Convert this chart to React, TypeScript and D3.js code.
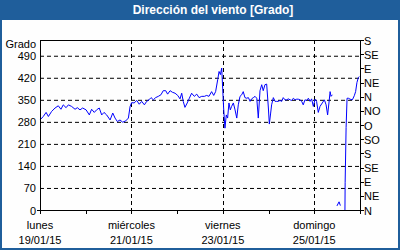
import React from 'react';
import * as d3 from 'd3';

// hours since 19/01/15 00:00 ; null value = gap in the line
const hours = [
  0, 1.7, 3.2, 4.4, 6.1, 7.9, 9.6, 11.0, 12.2, 13.7, 14.9, 16.6, 18.4, 19.6, 21.0, 22.4,
  24.2, 25.9, 27.1, 28.5, 29.7, 31.1, 32.4, 33.6, 35.0, 36.8, 38.2, 39.4, 40.6, 42.0, 43.4,
  45.0, 46.4, 47.3, 48.1, 49.4, 50.8, 52.1, 53.4, 54.8, 56.0, 57.2, 58.3, 59.5, 60.7, 62.1,
  63.5, 64.7, 66.0, 67.0, 68.3, 69.5, 70.9, 72.3, 73.5, 74.4, 75.2, 76.1, 77.3, 78.4, 79.6,
  81.0, 82.3, 83.5, 84.9, 86.3, 87.5, 88.7, 90.1, 91.2, 92.2, 93.3, 94.0, 94.7, 95.4, 95.9,
  96.4, 97.1, 97.8, 98.5, 99.2, 99.9, 100.6, 101.5, 102.4, 103.3, 104.1, 105.0, 105.9, 106.7,
  107.6, 108.5, 109.4, 110.3, 111.1, 112.0, 112.9, 113.8, 114.6, 115.5, 116.4, 117.2, 118.1,
  119.0, 119.9, 120.4, 121.1, 121.6, 122.5, 123.4, 124.3, 125.1, 126.0, 126.9, 127.7, 128.6,
  129.5, 130.4, 131.3, 132.1, 133.0, 133.9, 134.8, 135.6, 136.5, 137.4, 138.2, 139.1, 140.0,
  140.9, 141.8, 142.6, 143.5, 144.4, 145.2, 146.1, 147.0, 148.2, 149.3, 150.2, 151.0, 151.7,
  152.3, 152.8, 153.5, 154.7,
  155.9, 157.0, 157.7, 158.9,
  160.1, 160.2, 160.7, 161.2, 161.9, 162.8, 164.0, 165.0, 165.7, 166.4, 167.1, 167.6
];
const values: (number | null)[] = [
  286, 297, 310, 297, 313, 324, 331, 320, 334, 325, 334, 329, 320, 325, 318, 324,
  318, 302, 320, 310, 318, 324, 302, 310, 302, 286, 308, 292, 281, 286, 279,
  283, 292, 329, 341, 340, 348, 336, 345, 334, 345, 350, 357, 350, 357, 361,
  366, 379, 379, 368, 379, 374, 371, 364, 353, 371, 345, 326, 340, 355, 371,
  361, 368, 357, 361, 361, 364, 361, 376, 364, 376, 414, 440, 430, 451, 387,
  324, 260, 302, 292, 340, 318, 329, 340, 318, 292, 334, 361, 366, 376,
  357, 355, 357, 345, 353, 357, 361, 355, 292, 379, 398, 379, 398,
  400, 324, 273, 308, 334, 357, 345, 345, 345, 348, 345, 357, 350,
  350, 353, 350, 348, 355, 350, 352, 352, 350, 345, 334, 350, 348,
  355, 345, 353, 329, 352, 345, 310, 329, 340, 350, 334, 302, 340,
  376, 361, 366, null,
  13, 26, 14, null,
  0, 88, 262, 355, 355, 352, 350, 363, 376, 405, 420, 424
];

const gradeTicks = [0, 70, 140, 210, 280, 350, 420, 490];
const gridValues = [70, 140, 210, 280, 350, 420, 490];
const compassValues = [0, 45, 90, 135, 180, 225, 270, 315, 360, 405, 450, 495, 540];
const compassLabels = ['N', 'NE', 'E', 'SE', 'S', 'SO', 'O', 'NO', 'N', 'NE', 'E', 'SE', 'S'];
const labelDays = [19, 21, 23, 25];
const weekdayLabels = ['lunes', 'miércoles', 'viernes', 'domingo'];
const dateLabels = ['19/01/15', '21/01/15', '23/01/15', '25/01/15'];
const title = 'Dirección del viento [Grado]';
const yTitle = 'Grado';

const W = 400, H = 250;
const M = { left: 40, right: 360, top: 40, bottom: 210 };
const BLUE = '#1f5e9b';
const FONT = '"Liberation Sans", Arial, sans-serif';

export default function App() {
  const start = new Date(2015, 0, 19);
  const end = new Date(2015, 0, 26);
  const x = d3.scaleTime().domain([start, end]).range([M.left, M.right]);
  const y = d3.scaleLinear().domain([0, 540]).range([M.bottom, M.top]);
  const pts = hours.map((h, i) => ({ t: new Date(start.getTime() + h * 3600e3), v: values[i] }));
  const line = d3.line<{ t: Date; v: number | null }>()
    .defined(d => d.v != null)
    .x(d => x(d.t))
    .y(d => y(d.v as number));
  const days = d3.timeDay.range(start, d3.timeDay.offset(end, 1));

  return (
    <svg width={W} height={H} style={{ position: 'absolute', left: 0, top: 0 }} fontFamily={FONT}>
      <rect x={0} y={0} width={W} height={H} fill={BLUE} />
      <rect x={2} y={20} width={W - 4} height={H - 22} fill="#fefefe" />
      <text x={213} y={14} fill="#fff" fontWeight="bold" fontSize={12} textAnchor="middle">{title}</text>

      {/* horizontal grid */}
      {gridValues.map(v => (
        <line key={'h' + v} x1={M.left} x2={M.right} y1={y(v) + 0.5} y2={y(v) + 0.5}
          stroke="#000" strokeDasharray="4,3" strokeWidth={1} />
      ))}
      {/* vertical grid */}
      {labelDays.slice(1).map(d => {
        const px = Math.round(x(new Date(2015, 0, d))) + 0.5;
        return <line key={'v' + d} x1={px} x2={px} y1={M.top} y2={M.bottom}
          stroke="#000" strokeDasharray="4,3" strokeWidth={1} />;
      })}

      {/* data line */}
      <path d={line(pts) || ''} fill="none" stroke="#0000ff" strokeWidth={1} />

      {/* frame */}
      <rect x={M.left + 0.5} y={M.top + 0.5} width={M.right - M.left} height={M.bottom - M.top}
        fill="none" stroke="#000" strokeWidth={1} />
      <line x1={37} x2={M.left} y1={M.bottom + 0.5} y2={M.bottom + 0.5} stroke="#000" />

      {/* x ticks */}
      {days.map((d, i) => {
        const px = Math.round(x(d)) + 0.5;
        return <line key={'xt' + i} x1={px} x2={px} y1={M.bottom} y2={M.bottom + 4} stroke="#000" />;
      })}
      {labelDays.map((d, i) => {
        const px = x(new Date(2015, 0, d));
        return (
          <g key={'xl' + d} fontSize={11} textAnchor="middle" fill="#000">
            <text x={px} y={229}>{weekdayLabels[i]}</text>
            <text x={px} y={244}>{dateLabels[i]}</text>
          </g>
        );
      })}

      {/* left labels */}
      {gradeTicks.map(v => (
        <text key={'yl' + v} x={36} y={y(v) + 4.5} fontSize={11} textAnchor="end">{v}</text>
      ))}
      <text x={36} y={47.5} fontSize={11} textAnchor="end">{yTitle}</text>

      {/* right compass axis */}
      {compassValues.map((v, i) => (
        <g key={'c' + i}>
          <line x1={M.right} x2={M.right + 4} y1={Math.round(y(v)) + 0.5} y2={Math.round(y(v)) + 0.5} stroke="#000" />
          <text x={364} y={y(v) + 4.5} fontSize={11}>{compassLabels[i]}</text>
        </g>
      ))}
    </svg>
  );
}
